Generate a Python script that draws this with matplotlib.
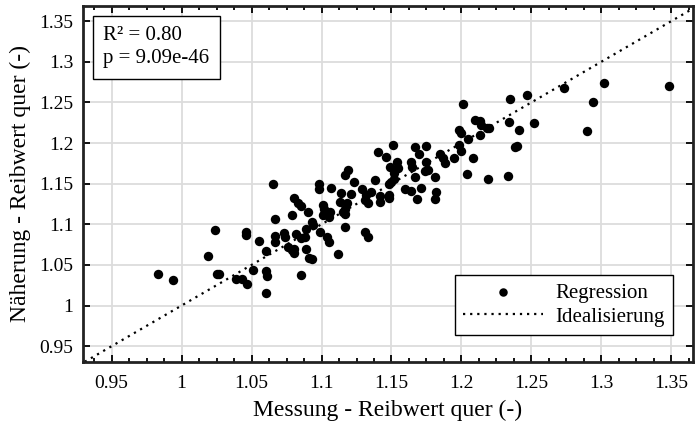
import matplotlib
matplotlib.use("Agg")
import matplotlib.pyplot as plt
from matplotlib.ticker import MultipleLocator, FixedLocator, FixedFormatter

plt.rcParams['font.family'] = ['Liberation Serif', 'DejaVu Serif']

# Data: measured (x) vs. approximated (y) friction coefficient
messung = [0.983, 0.994, 1.019, 1.024, 1.025, 1.027, 1.039, 1.043, 1.047, 1.046,
           1.046, 1.055, 1.051, 1.060, 1.061, 1.060, 1.060, 1.067, 1.067, 1.073,
           1.074, 1.076, 1.079, 1.080, 1.065, 1.098, 1.098, 1.107, 1.123, 1.080,
           1.083, 1.085, 1.079, 1.067, 1.090, 1.101, 1.102, 1.106, 1.105, 1.101,
           1.113, 1.114, 1.118, 1.117, 1.117, 1.121, 1.117, 1.093, 1.094, 1.099,
           1.104, 1.105, 1.112, 1.089, 1.091, 1.093, 1.082, 1.085, 1.088, 1.089,
           1.140, 1.146, 1.119, 1.117, 1.138, 1.129, 1.135, 1.132, 1.131, 1.133,
           1.142, 1.142, 1.148, 1.198, 1.200, 1.151, 1.167, 1.175, 1.170, 1.185,
           1.187, 1.188, 1.195, 1.198, 1.200, 1.154, 1.155, 1.164, 1.165, 1.175,
           1.174, 1.176, 1.149, 1.152, 1.152, 1.150, 1.167, 1.181, 1.204, 1.160,
           1.164, 1.171, 1.182, 1.181, 1.148, 1.148, 1.168, 1.273, 1.247, 1.235,
           1.201, 1.210, 1.213, 1.214, 1.218, 1.220, 1.205, 1.213, 1.234, 1.241,
           1.252, 1.238, 1.240, 1.208, 1.219, 1.233, 1.302, 1.294, 1.290, 1.348,
           1.131, 1.133, 1.085, 1.080, 1.115]
naeherung = [1.039, 1.032, 1.061, 1.093, 1.039, 1.039, 1.033, 1.033, 1.027, 1.091,
             1.087, 1.080, 1.044, 1.043, 1.036, 1.015, 1.067, 1.086, 1.078, 1.089,
             1.084, 1.072, 1.068, 1.069, 1.149, 1.149, 1.143, 1.145, 1.152, 1.132,
             1.126, 1.122, 1.111, 1.107, 1.115, 1.124, 1.119, 1.115, 1.109, 1.111,
             1.128, 1.138, 1.126, 1.119, 1.113, 1.137, 1.097, 1.103, 1.099, 1.090,
             1.084, 1.078, 1.064, 1.070, 1.058, 1.057, 1.088, 1.083, 1.084, 1.094,
             1.189, 1.183, 1.167, 1.161, 1.154, 1.144, 1.140, 1.136, 1.130, 1.126,
             1.135, 1.128, 1.150, 1.216, 1.212, 1.198, 1.195, 1.196, 1.186, 1.187,
             1.181, 1.175, 1.181, 1.197, 1.190, 1.177, 1.169, 1.177, 1.171, 1.177,
             1.165, 1.167, 1.170, 1.163, 1.156, 1.152, 1.158, 1.158, 1.162, 1.144,
             1.141, 1.145, 1.140, 1.131, 1.136, 1.132, 1.131, 1.268, 1.259, 1.254,
             1.248, 1.228, 1.227, 1.222, 1.218, 1.219, 1.205, 1.210, 1.226, 1.216,
             1.225, 1.195, 1.196, 1.182, 1.156, 1.160, 1.274, 1.250, 1.215, 1.270,
             1.091, 1.084, 1.038, 1.065, 1.115]

ideal = [0.90, 1.40]

xticks = [0.95, 1.0, 1.05, 1.1, 1.15, 1.2, 1.25, 1.3, 1.35]
xtick_labels = ['0.95', '1', '1.05', '1.1', '1.15', '1.2', '1.25', '1.3', '1.35']
yticks = [0.95, 1.0, 1.05, 1.1, 1.15, 1.2, 1.25, 1.3, 1.35]
ytick_labels = ['0.95', '1', '1.05', '1.1', '1.15', '1.2', '1.25', '1.3', '1.35']

stats_text = 'R² = 0.80\np = 9.09e-46'

fig = plt.figure(figsize=(6.95, 4.28), dpi=100)
ax = fig.add_axes([83/695, 1 - 362/428, 610/695, 356/428])

ax.set_xlim(0.9295, 1.3655)
ax.set_ylim(0.9305, 1.3686)

ax.grid(True, color='#dcdcdc', linewidth=1.3, zorder=0)
ax.set_axisbelow(True)

ax.scatter(messung, naeherung, s=46, color='black', zorder=3, label='Regression',
           linewidths=0)
ax.plot(ideal, ideal, linestyle=(0, (1, 2.2)), color='black', linewidth=1.6,
        zorder=2, label='Idealisierung')

ax.xaxis.set_major_locator(FixedLocator(xticks))
ax.xaxis.set_major_formatter(FixedFormatter(xtick_labels))
ax.yaxis.set_major_locator(FixedLocator(yticks))
ax.yaxis.set_major_formatter(FixedFormatter(ytick_labels))
ax.xaxis.set_minor_locator(MultipleLocator(0.0125))

ax.tick_params(which='both', direction='in', top=True, right=True, width=1.3,
               labelsize=14, color='black')
ax.tick_params(which='major', length=5, pad=7)
ax.tick_params(axis='x', which='major', pad=9)
ax.tick_params(which='minor', length=3)

for sp in ax.spines.values():
    sp.set_linewidth(2)
    sp.set_color('#222222')

ax.set_xlabel('Messung - Reibwert quer (-)', fontsize=17, labelpad=6)
ax.set_ylabel('Näherung - Reibwert quer (-)', fontsize=17, labelpad=6)

ax.text(0.033, 0.944, stats_text, transform=ax.transAxes, fontsize=15,
        va='top', ha='left', linespacing=1.32,
        bbox=dict(boxstyle='square,pad=0.5', facecolor='white',
                  edgecolor='black', linewidth=1))

leg = ax.legend(loc='lower right', bbox_to_anchor=(0.967, 0.076), fontsize=15,
                frameon=True, fancybox=False, framealpha=1, edgecolor='black',
                handlelength=3.8, borderpad=0.4, labelspacing=0.2,
                handletextpad=0.6, borderaxespad=0, markerscale=0.9)
leg.get_frame().set_linewidth(1)

fig.savefig('out.png', dpi=100)
